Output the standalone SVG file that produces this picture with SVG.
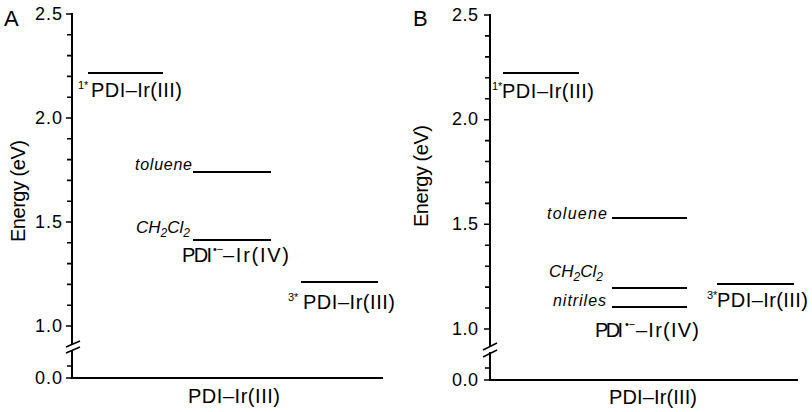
<svg xmlns="http://www.w3.org/2000/svg" width="812" height="412" viewBox="0 0 812 412">
<style>
text{font-family:"Liberation Sans",Arial,sans-serif;fill:#000}
.ax{stroke:#000;stroke-width:2;fill:none}
.tk{stroke:#000;stroke-width:1.6;fill:none}
.lv{stroke:#000;stroke-width:1.8;fill:none}
.tl{font-size:18px;text-anchor:end}
.lab{font-size:20px}
.sup{font-size:11px}
.it{font-style:italic;font-size:16px}
.ch{font-style:italic;font-size:17px}
.pl{font-size:22px}
</style>
<rect width="812" height="412" fill="#fff"/>

<!-- Panel A axes -->
<g id="axesA">
<text class="pl" x="4" y="26">A</text>
<path class="ax" d="M72,13V345M72,350V379M71,378H383"/>
<path class="tk" d="M66,14H72M67,34.8H72M67,55.6H72M67,76.4H72M67,97.2H72M66,118H72M67,138.8H72M67,159.6H72M67,180.4H72M67,201.2H72M66,222H72M67,242.8H72M67,263.6H72M67,284.4H72M67,305.2H72M66,326H72M67,366H72M66,378H72"/>
<path class="tk" d="M66,347L80,341M66,353L80,347"/>
<text class="tl" x="62" y="20" textLength="27">2.5</text>
<text class="tl" x="62" y="124" textLength="27">2.0</text>
<text class="tl" x="62" y="228" textLength="27">1.5</text>
<text class="tl" x="62" y="332" textLength="27">1.0</text>
<text class="tl" x="62" y="384" textLength="27">0.0</text>
<text class="lab" transform="translate(25,191) rotate(-90)" text-anchor="middle" textLength="102">Energy (eV)</text>
<text class="lab" x="188" y="403" textLength="92">PDI–Ir(III)</text>
</g>

<g id="connectors"></g>

<g id="A-S1">
<line class="lv" x1="88" y1="73" x2="163" y2="73"/>
<text class="sup" x="78" y="89" font-size="12">1*</text>
<text class="lab" x="91" y="97" textLength="91">PDI–Ir(III)</text>
</g>
<g id="A-toluene">
<line class="lv" x1="193" y1="172" x2="271" y2="172"/>
<text class="it" x="192" y="170" text-anchor="end" textLength="57">toluene</text>
</g>
<g id="A-CH2Cl2">
<line class="lv" x1="193" y1="240" x2="271" y2="240"/>
<text class="ch" x="136" y="233">CH<tspan font-size="12" dy="4">2</tspan><tspan dy="-4">Cl</tspan><tspan font-size="12" dy="4">2</tspan></text>
</g>
<g id="A-CT">
<text class="lab" x="182" y="262" textLength="30">PDI</text>
<text class="sup" x="213" y="253">•−</text>
<text class="lab" x="223" y="262" textLength="66">–Ir(IV)</text>
</g>
<g id="A-T1">
<line class="lv" x1="301" y1="282" x2="378" y2="282"/>
<text class="sup" x="288" y="301" font-size="12">3*</text>
<text class="lab" x="303" y="309" textLength="92">PDI–Ir(III)</text>
</g>

<!-- Panel B axes -->
<g id="axesB">
<text class="pl" x="413" y="26">B</text>
<path class="ax" d="M490,14V346M490,352V381M489,380H798"/>
<path class="tk" d="M484,15H490M485,35.9H490M485,56.9H490M485,77.8H490M485,98.7H490M484,119.7H490M485,140.6H490M485,161.5H490M485,182.4H490M485,203.4H490M484,224.3H490M485,245.2H490M485,266.2H490M485,287.1H490M485,308H490M484,329H490M485,368H490M484,380H490"/>
<path class="tk" d="M483,350L497,343M483,357L497,350"/>
<text class="tl" x="478" y="21" textLength="26">2.5</text>
<text class="tl" x="478" y="125" textLength="26">2.0</text>
<text class="tl" x="478" y="230" textLength="26">1.5</text>
<text class="tl" x="478" y="335" textLength="26">1.0</text>
<text class="tl" x="478" y="386" textLength="26">0.0</text>
<text class="lab" transform="translate(428,176) rotate(-90)" text-anchor="middle" textLength="102">Energy (eV)</text>
<text class="lab" x="609" y="404" textLength="88">PDI–Ir(III)</text>
</g>

<g id="B-S1">
<line class="lv" x1="503" y1="73" x2="579" y2="73"/>
<text class="sup" x="492" y="90" font-size="10">1*</text>
<text class="lab" x="502" y="98" textLength="92">PDI–Ir(III)</text>
</g>
<g id="B-toluene">
<line class="lv" x1="612" y1="218" x2="687" y2="218"/>
<text class="it" x="607" y="219" text-anchor="end" textLength="60">toluene</text>
</g>
<g id="B-CH2Cl2">
<line class="lv" x1="612" y1="288" x2="687" y2="288"/>
<text class="ch" x="549" y="277">CH<tspan font-size="12" dy="4">2</tspan><tspan dy="-4">Cl</tspan><tspan font-size="12" dy="4">2</tspan></text>
</g>
<g id="B-nitriles">
<line class="lv" x1="612" y1="307" x2="687" y2="307"/>
<text class="it" x="606" y="306" text-anchor="end" textLength="53">nitriles</text>
</g>
<g id="B-CT">
<text class="lab" x="595" y="337" textLength="28">PDI</text>
<text class="sup" x="625" y="328">•−</text>
<text class="lab" x="636" y="337" textLength="63">–Ir(IV)</text>
</g>
<g id="B-T1">
<line class="lv" x1="717" y1="284" x2="794" y2="284"/>
<text class="sup" x="707" y="299" font-size="10">3*</text>
<text class="lab" x="717" y="307" textLength="91">PDI–Ir(III)</text>
</g>
</svg>
